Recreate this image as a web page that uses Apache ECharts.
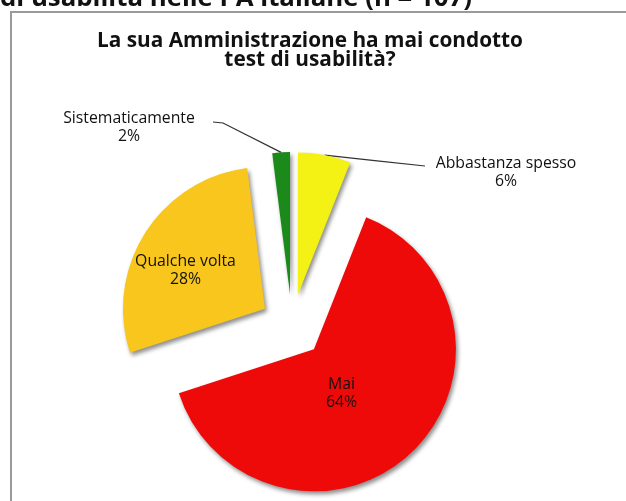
<!DOCTYPE html>
<html>
<head>
<meta charset="utf-8">
<script src="https://cdn.jsdelivr.net/npm/echarts@6/dist/echarts.min.js"></script>
<style>
  html, body { margin: 0; padding: 0; background: #ffffff; }
  #chart { width: 626px; height: 501px; }
</style>
</head>
<body>
<div id="chart"></div>
<script>
// Survey answers: "La sua Amministrazione ha mai condotto test di usabilità?"
const categories = ['Abbastanza spesso', 'Mai', 'Qualche volta', 'Sistematicamente'];
const shares = [6, 64, 28, 2];          // percent of respondents
const sliceColors = ['#f3f214', '#ef0a0a', '#f8c61c', '#1b8a1b'];
const insideLabels = { 'Mai': true, 'Qualche volta': true };

const FONT = '"Open Sans", "Noto Sans", sans-serif';
const LABEL_SIZE = 15.8;
const LABEL_LH = 18;
const EXPLODE = 32;        // every slice is pulled out by this many pixels
const START_ANGLE = 90;

const chart = echarts.init(document.getElementById('chart'), null, { renderer: 'canvas' });

// Pull-out vector of each slice (labels are laid out before this shift is applied)
const total = shares.reduce((a, b) => a + b, 0);
const explodeVec = [];
{
  let acc = 0;
  shares.forEach(v => {
    const mid = (acc + v / 2) / total * 2 * Math.PI;   // clockwise from 12 o'clock
    explodeVec.push([EXPLODE * Math.sin(mid), -EXPLODE * Math.cos(mid)]);
    acc += v;
  });
}

const calloutRich = {
  c: { width: 150, align: 'center', fontFamily: FONT, fontSize: LABEL_SIZE, lineHeight: LABEL_LH, color: '#111111' }
};

const pieData = categories.map((name, i) => {
  const inside = !!insideLabels[name];
  return {
    name: name,
    value: shares[i],
    selected: true,
    itemStyle: { color: sliceColors[i] },
    label: inside
      ? { position: 'inside' }
      : { position: 'outside', formatter: p => '{c|' + p.name + '}\n{c|' + p.value + '%}', rich: calloutRich },
    labelLine: { show: !inside }
  };
});

// Centre of each callout text block, and where its leader meets the text
const callouts = {
  'Sistematicamente': { cx: 129, cy: 127, side: 'right', textHalf: 66 },
  'Abbastanza spesso': { cx: 506, cy: 172, side: 'left', textHalf: 71 }
};
const insideShift = {
  'Mai': { dx: -23, dy: -10 },
  'Qualche volta': { dx: -17, dy: 1 }
};

chart.setOption({
  animation: false,
  backgroundColor: '#ffffff',
  title: {
    text: 'La sua Amministrazione ha mai condotto\ntest di usabilità?',
    left: 305,
    textAlign: 'center',
    top: 27,
    textStyle: {
      fontFamily: FONT,
      fontWeight: 'bold',
      fontSize: 20.8,
      lineHeight: 19,
      color: '#111111'
    }
  },
  graphic: [
    {
      type: 'text',
      left: 0,
      top: -14,
      silent: true,
      style: {
        text: 'di usabilità nelle PA italiane (n = 107)',
        font: 'bold 25.8px ' + FONT,
        fill: '#111111'
      }
    },
    {
      type: 'rect',
      silent: true,
      shape: { x: 11, y: 12, width: 640, height: 520 },
      style: { fill: 'none', stroke: '#9a9a9a', lineWidth: 2 }
    }
  ],
  series: [{
    type: 'pie',
    center: [292, 326],
    radius: [0, 142],
    startAngle: START_ANGLE,
    clockwise: true,
    selectedMode: 'multiple',
    selectedOffset: EXPLODE,
    avoidLabelOverlap: false,
    emphasis: { disabled: true },
    select: { itemStyle: { borderWidth: 0 } },
    itemStyle: {
      borderWidth: 0,
      shadowBlur: 4,
      shadowOffsetX: 2,
      shadowOffsetY: 3,
      shadowColor: 'rgba(0,0,0,0.45)'
    },
    label: {
      show: true,
      formatter: p => p.name + '\n' + p.value + '%',
      fontFamily: FONT,
      fontSize: LABEL_SIZE,
      lineHeight: LABEL_LH,
      color: '#111111',
      align: 'center'
    },
    labelLine: {
      show: true,
      length: 10,
      length2: 10,
      lineStyle: { color: '#333333', width: 1.2 }
    },
    labelLayout: function (params) {
      const i = params.dataIndex;
      const name = categories[i];
      const c = callouts[name];
      if (c) {
        const off = explodeVec[i];
        const r = params.labelRect;
        // targets expressed before the slice pull-out shift
        const tx = c.cx - off[0], ty = c.cy - off[1];
        const dx = tx - (r.x + r.width / 2);
        const dy = ty - (r.y + r.height / 2);
        const p0 = params.labelLinePoints ? params.labelLinePoints[0] : [tx, ty];
        let end, elbow;
        if (c.side === 'right') {
          end = [tx + c.textHalf + 18, ty - 5];
          elbow = [end[0] + 10, end[1] + 1];
        } else {
          end = [tx - c.textHalf - 10, ty - 6];
          elbow = [(end[0] + p0[0]) / 2, (end[1] + p0[1]) / 2];
        }
        return { dx: dx, dy: dy, labelLinePoints: [p0, elbow, end] };
      }
      if (insideShift[name]) {
        return { dx: insideShift[name].dx, dy: insideShift[name].dy };
      }
      return {};
    },
    data: pieData
  }]
});
</script>
</body>
</html>
